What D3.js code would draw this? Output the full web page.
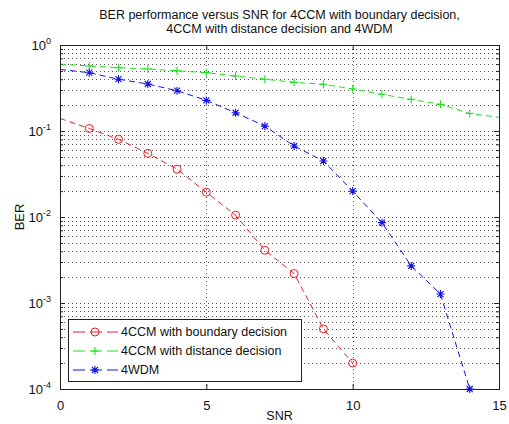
<!DOCTYPE html>
<html>
<head>
<meta charset="utf-8">
<script src="https://cdn.jsdelivr.net/npm/d3@7"></script>
<style>
  body { margin: 0; background: #fff; }
  text { font-family: "Liberation Sans", Arial, sans-serif; fill: #111; }
</style>
</head>
<body>
<script>
// SNR points (dB) and BER
const snr = d3.range(0, 16);
const berBoundary = [0.14, 0.107, 0.080, 0.055, 0.036, 0.0194, 0.0105, 0.0041, 0.0022, 0.0005, 0.0002];
const berDistance = [0.60, 0.57, 0.545, 0.526, 0.50, 0.477, 0.436, 0.40, 0.368, 0.349, 0.308, 0.267, 0.233, 0.204, 0.160, 0.144];
const berWdm = [0.52, 0.476, 0.40, 0.352, 0.294, 0.227, 0.163, 0.114, 0.067, 0.0448, 0.020, 0.0086, 0.0027, 0.00127, 0.0001];
const markerFrom = [1, 1, 1];
const markerTo = [10, 14, 14];
const seriesNames = ["4CCM with boundary decision", "4CCM with distance decision", "4WDM"];
const xTicks = [0, 5, 10, 15];
const yTicks = [1e-4, 1e-3, 1e-2, 1e-1, 1];
const titleLines = ["BER performance versus SNR for 4CCM with boundary decision,", "4CCM with distance decision and 4WDM"];

const colors = ["#e8202a", "#22e022", "#1414e0"];
const shapes = ["circle", "plus", "star"];

var margin = { top: 45, right: 10, bottom: 35, left: 60 },
  width = 509 - margin.left - margin.right,
  height = 424 - margin.top - margin.bottom;

var x = d3.scaleLinear().domain([0, 15]).range([0, width]);
var y = d3.scaleLog().domain([1e-4, 1]).range([height, 0]);

var minor = [];
for (let e = -4; e < 0; e++) {
  for (let m = 2; m <= 9; m++) minor.push(m * Math.pow(10, e));
}

var svg = d3.select("body").append("svg")
  .attr("width", 509)
  .attr("height", 424);

var g = svg.append("g")
  .attr("transform", "translate(" + margin.left + "," + margin.top + ")");

g.append("rect")
  .attr("width", width)
  .attr("height", height)
  .attr("fill", "#fff");

// dotted grid
var grid = g.append("g").attr("stroke", "#555").attr("stroke-dasharray", "1,3").attr("stroke-width", 1);
grid.selectAll(".hg")
  .data(yTicks.concat(minor).filter(d => d > 1e-4 && d < 1))
  .enter().append("line")
  .attr("x1", 0).attr("x2", width)
  .attr("y1", d => Math.round(y(d)) + 0.5).attr("y2", d => Math.round(y(d)) + 0.5);
grid.selectAll(".vg")
  .data(xTicks.filter(d => d > 0 && d < 15))
  .enter().append("line")
  .attr("y1", 0).attr("y2", height)
  .attr("x1", d => Math.round(x(d)) + 0.5).attr("x2", d => Math.round(x(d)) + 0.5);

// axes with inward ticks
function styleAxis(sel) {
  sel.select(".domain").remove();
  sel.selectAll("line").attr("stroke", "#222");
}
g.append("g").attr("transform", "translate(0," + height + ")")
  .call(d3.axisBottom(x).tickValues(xTicks).tickSize(-5).tickPadding(12).tickSizeOuter(0))
  .call(styleAxis)
  .selectAll("text").style("font-size", "13px").attr("fill", "#111");
g.append("g")
  .call(d3.axisTop(x).tickValues(xTicks).tickSize(-5).tickFormat("").tickSizeOuter(0))
  .call(styleAxis);

var yAxis = g.append("g")
  .call(d3.axisLeft(y).tickValues(yTicks).tickSize(-5).tickPadding(9).tickFormat("").tickSizeOuter(0))
  .call(styleAxis);
yAxis.selectAll(".tick text")
  .style("font-size", "13px").attr("fill", "#111").attr("dy", "0.35em")
  .each(function (d) {
    var t = d3.select(this);
    t.append("tspan").text("10");
    t.append("tspan").attr("dy", "-6").style("font-size", "9px").text(Math.round(Math.log10(d)));
  });
g.append("g")
  .call(d3.axisLeft(y).tickValues(minor).tickSize(-3).tickFormat("").tickSizeOuter(0))
  .call(styleAxis);
g.append("g").attr("transform", "translate(" + width + ",0)")
  .call(d3.axisRight(y).tickValues(yTicks).tickSize(-5).tickFormat("").tickSizeOuter(0))
  .call(styleAxis);
g.append("g").attr("transform", "translate(" + width + ",0)")
  .call(d3.axisRight(y).tickValues(minor).tickSize(-3).tickFormat("").tickSizeOuter(0))
  .call(styleAxis);

// data
var clip = g.append("clipPath").attr("id", "clip").append("rect").attr("width", width).attr("height", height);
var allSeries = [berBoundary, berDistance, berWdm];
var line = d3.line()
  .x((d, i) => x(snr[i]))
  .y(d => y(d));

function drawMarker(sel, shape, color) {
  if (shape == "circle") {
    sel.append("circle").attr("r", 4).attr("fill", "none").attr("stroke", color).attr("stroke-width", 1);
  } else if (shape == "plus") {
    sel.append("path").attr("d", "M-4,0H4M0,-4V4").attr("stroke", color).attr("stroke-width", 1.1);
  } else {
    sel.append("path").attr("d", "M-4,0H4M0,-4V4M-3,-3L3,3M-3,3L3,-3").attr("stroke", color).attr("stroke-width", 1.1);
  }
}

allSeries.forEach(function (data, k) {
  g.append("path")
    .datum(data)
    .attr("clip-path", "url(#clip)")
    .attr("fill", "none")
    .attr("stroke", colors[k])
    .attr("stroke-width", 1)
    .attr("stroke-dasharray", "6,4")
    .attr("d", line);

  var pts = data.map((d, i) => [snr[i], d]).filter(p => p[0] >= markerFrom[k] && p[0] <= markerTo[k]);
  g.selectAll(".m" + k)
    .data(pts)
    .enter().append("g")
    .attr("class", "m" + k)
    .attr("transform", d => "translate(" + x(d[0]) + "," + y(d[1]) + ")")
    .each(function () { drawMarker(d3.select(this), shapes[k], colors[k]); });
});

// box
g.append("rect")
  .attr("x", 0.5).attr("y", 0.5)
  .attr("width", width).attr("height", height)
  .attr("fill", "none").attr("stroke", "#222");

// legend
var legend = svg.append("g").attr("transform", "translate(68,319)");
legend.append("rect")
  .attr("x", 0.5).attr("y", 0.5)
  .attr("width", 233).attr("height", 62)
  .attr("fill", "#fff").attr("stroke", "#222");
seriesNames.forEach(function (name, k) {
  var row = legend.append("g").attr("transform", "translate(0," + (13 + k * 19) + ")");
  row.append("line")
    .attr("x1", 5).attr("x2", 50)
    .attr("stroke", colors[k]).attr("stroke-dasharray", "12,5");
  drawMarker(row.append("g").attr("transform", "translate(27,0)"), shapes[k], colors[k]);
  row.append("text")
    .attr("x", 53).attr("dy", "0.35em")
    .style("font-size", "12.5px")
    .text(name);
});

// titles and labels
svg.selectAll(".title")
  .data(titleLines)
  .enter().append("text")
  .attr("x", margin.left + width / 2)
  .attr("y", (d, i) => 19 + i * 14)
  .style("text-anchor", "middle")
  .style("font-size", "12.5px")
  .text(d => d);

svg.append("text")
  .attr("x", margin.left + width / 2)
  .attr("y", 420)
  .style("text-anchor", "middle")
  .style("font-size", "12.5px")
  .text("SNR");

svg.append("text")
  .attr("transform", "translate(24," + (margin.top + height / 2) + ") rotate(-90)")
  .style("text-anchor", "middle")
  .style("font-size", "13px")
  .text("BER");
</script>
</body>
</html>
